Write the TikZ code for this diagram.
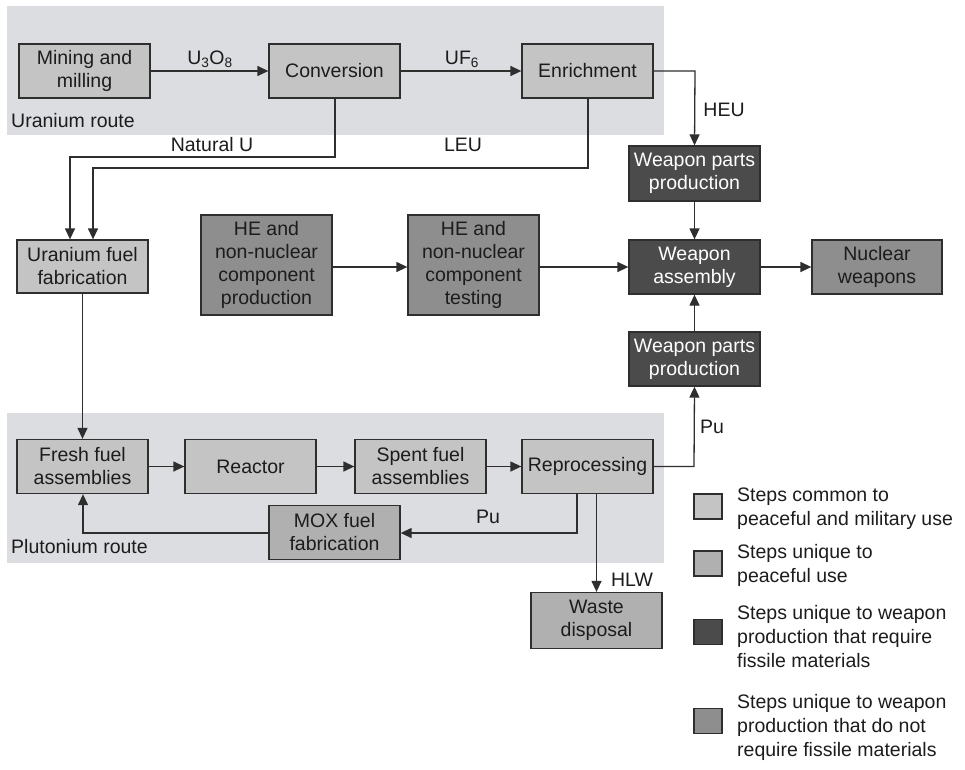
\documentclass[tikz,border=0pt]{standalone}
\usepackage{fontspec}
\setmainfont{Liberation Sans}
\usetikzlibrary{arrows.meta}

\definecolor{bandgray}{HTML}{DCDDE0}
\definecolor{commonfill}{HTML}{C4C4C4}
\definecolor{peacefill}{HTML}{B0B0B0}
\definecolor{fissilefill}{HTML}{4B4B4B}
\definecolor{nonfissfill}{HTML}{8E8E8E}
\definecolor{edgegray}{HTML}{2E2E2E}
\definecolor{inkgray}{HTML}{1C1C1C}

\begin{document}
\begin{tikzpicture}[x=1pt,y=-1pt,
  every node/.style={font=\fontsize{19.5}{23}\selectfont, text=inkgray},
  stepbox/.style={draw=edgegray, line width=1.3pt, minimum width=131pt,
    minimum height=54pt, inner sep=0pt, align=center},
  commonstep/.style={stepbox, fill=commonfill},
  peacestep/.style={stepbox, fill=peacefill},
  fissilestep/.style={stepbox, fill=fissilefill, text=white},
  nonfissstep/.style={stepbox, fill=nonfissfill},
  flow/.style={draw=edgegray, line width=1.3pt,
    -{Triangle[length=11pt,width=10pt]}},
  flowlabel/.style={inner sep=0pt},
  keybox/.style={draw=edgegray, line width=1.3pt, minimum width=28pt,
    minimum height=25pt, inner sep=0pt},
  keytext/.style={anchor=west, align=left, inner sep=0pt,
    font=\fontsize{19.5}{24}\selectfont},
  band/.style={fill=bandgray, draw=none}
  ]
\useasboundingbox (0,0) rectangle (965,769);

% route bands
\path[band] (7,6) rectangle (664,135);
\path[band] (7,413) rectangle (664,563);
\node[anchor=west, inner sep=0pt] (urlabel) at (11,121) {Uranium route};
\node[anchor=west, inner sep=0pt] (purlabel) at (11,547) {Plutonium route};

% uranium route
\node[commonstep] (mine) at (84.5,71) {Mining and\\milling};
\node[commonstep] (conv) at (334.5,71) {Conversion};
\node[commonstep] (enrich) at (587.5,71) {Enrichment};
\node[commonstep, minimum height=53pt] (ufab) at (82.5,266.5) {Uranium fuel\\fabrication};

% weapon chain
\node[nonfissstep, minimum height=100pt] (he1) at (266.5,265) {HE and\\non-nuclear\\component\\production};
\node[nonfissstep, minimum height=100pt] (he2) at (473.5,265) {HE and\\non-nuclear\\component\\testing};
\node[fissilestep, minimum height=55pt] (wp1) at (694.5,173.5) {Weapon parts\\production};
\node[fissilestep] (wa) at (694.5,267) {Weapon\\assembly};
\node[nonfissstep, minimum width=130pt] (nw) at (877,267) {Nuclear\\weapons};
\node[fissilestep] (wp2) at (694.5,359) {Weapon parts\\production};

% plutonium route
\node[commonstep] (fresh) at (82.5,466.5) {Fresh fuel\\assemblies};
\node[commonstep] (reactor) at (250.5,466.5) {Reactor};
\node[commonstep] (spent) at (420.5,466.5) {Spent fuel\\assemblies};
\node[commonstep] (repro) at (587.5,466.5) {Reprocessing};
\node[peacestep] (mox) at (334.5,532.5) {MOX fuel\\fabrication};
\node[peacestep, minimum height=56pt] (waste) at (596.5,620.5) {Waste\\disposal};

% junction points of the routed connectors
\coordinate (heuturn) at (695,71);
\coordinate (natU1) at (335,157);
\coordinate (natU2) at (70,157);
\coordinate (leu1) at (588,168);
\coordinate (leu2) at (93,168);
\coordinate (puturn) at (694,466.5);
\coordinate (mox1) at (577,533);
\coordinate (mox2) at (83,533);

% uranium flows
\draw[flow] (mine) -- (conv);
\draw[flow] (conv) -- (enrich);
\draw[flow] (enrich.east) -- (heuturn) -- (wp1.north);
\draw[flow] (natU1 |- conv.south) -- (natU1) -- (natU2) -- (natU2 |- ufab.north);
\draw[flow] (leu1 |- enrich.south) -- (leu1) -- (leu2) -- (leu2 |- ufab.north);
\draw[flow] (ufab) -- (fresh);

% weapon flows
\draw[flow] (he1.east |- wa.west) -- (he2.west |- wa.west);
\draw[flow] (he2.east |- wa.west) -- (wa.west);
\draw[flow] (wa) -- (nw);
\draw[flow] (wp1) -- (wa);
\draw[flow] (wp2) -- (wa);

% plutonium flows
\draw[flow] (fresh) -- (reactor);
\draw[flow] (reactor) -- (spent);
\draw[flow] (spent) -- (repro);
\draw[flow] (repro.east) -- (puturn) -- (wp2.south);
\draw[flow] (mox1 |- repro.south) -- (mox1) -- (mox.east |- mox1);
\draw[flow] (mox.west |- mox2) -- (mox2) -- (fresh.south -| mox2);
\draw[flow] (repro.south -| waste.north) -- (waste.north);

% flow labels
\node[flowlabel] (lu3o8) at (210,59) {U\textsubscript{3}O\textsubscript{8}};
\node[flowlabel] (luf6) at (462,59) {UF\textsubscript{6}};
\node[flowlabel] (lheu) at (724,110) {HEU};
\node[flowlabel] (lnatu) at (212,145) {Natural U};
\node[flowlabel] (lleu) at (463,145) {LEU};
\node[flowlabel] (lpu1) at (712,427) {Pu};
\node[flowlabel] (lpu2) at (488,517) {Pu};
\node[flowlabel] (lhlw) at (632,580) {HLW};

% key
\node[keybox, fill=commonfill] (k1) at (708,506.5) {};
\node[keytext] (k1t) at (737,509) {Steps common to\\peaceful and military use};
\node[keybox, fill=peacefill] (k2) at (708,563.5) {};
\node[keytext] (k2t) at (737,565) {Steps unique to\\peaceful use};
\node[keybox, fill=fissilefill] (k3) at (708,632) {};
\node[keytext] (k3t) at (737,637) {Steps unique to weapon\\production that require\\fissile materials};
\node[keybox, fill=nonfissfill] (k4) at (708,721) {};
\node[keytext] (k4t) at (737,727) {Steps unique to weapon\\production that do not\\require fissile materials};
\end{tikzpicture}
\end{document}
